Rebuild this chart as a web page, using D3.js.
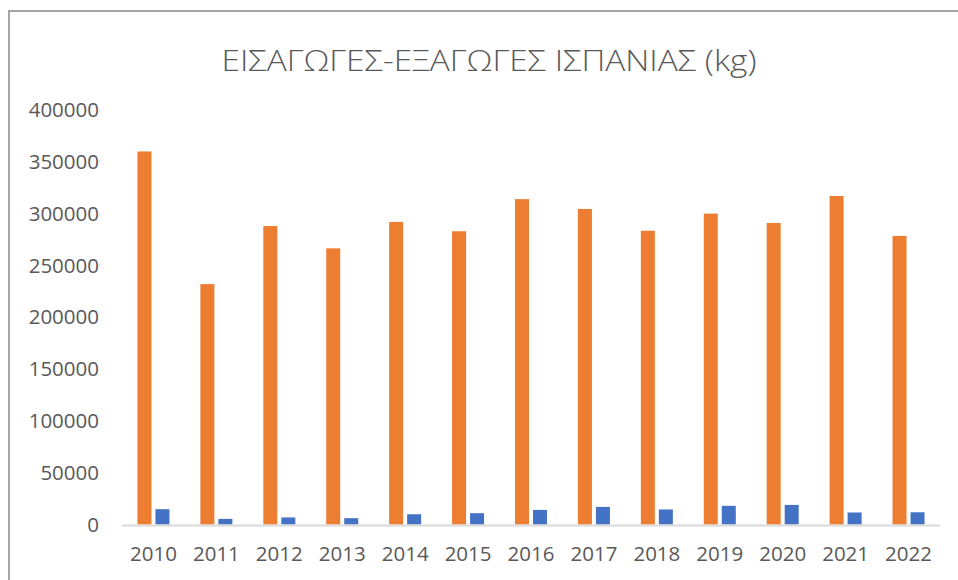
<!DOCTYPE html>
<html lang="el">
<head>
    <meta charset="UTF-8">
    <title>ΕΙΣΑΓΩΓΕΣ-ΕΞΑΓΩΓΕΣ ΙΣΠΑΝΙΑΣ</title>
    <script src="https://d3js.org/d3.v7.min.js"></script>
    <style>
        body { margin: 0; background: #fff; }
        text { font-family: "Open Sans", sans-serif; fill: #595959; }
    </style>
</head>
<body>
<div id="chart"></div>
<script>
// data
var years = ["2010", "2011", "2012", "2013", "2014", "2015", "2016",
             "2017", "2018", "2019", "2020", "2021", "2022"];
var imports = [360000, 232000, 288000, 266500, 292000, 283000, 314000,
               304500, 283500, 300000, 291000, 317000, 278500];
var exports = [14800, 5400, 6800, 6100, 9900, 10900, 14100,
               17000, 14500, 18000, 18900, 11600, 11800];
var yTicks = [0, 50000, 100000, 150000, 200000, 250000, 300000, 350000, 400000];
var seriesNames = ["Εισαγωγές", "Εξαγωγές"];
var colors = ["#ED7D31", "#4472C4"];

var width = 958, height = 580;
var margin = { top: 110, right: 18, bottom: 55, left: 122 };

var svg = d3.select("#chart").append("svg")
    .attr("width", width)
    .attr("height", height);

// chart frame
svg.append("rect")
    .attr("x", 9).attr("y", 11)
    .attr("width", width + 20).attr("height", height + 20)
    .attr("fill", "none")
    .attr("stroke", "#a6a6a6")
    .attr("stroke-width", 2);

svg.append("text")
    .attr("x", 489)
    .attr("y", 71)
    .attr("text-anchor", "middle")
    .attr("textLength", 535)
    .attr("lengthAdjust", "spacingAndGlyphs")
    .style("font-size", "30px")
    .style("font-weight", 300)
    .text("ΕΙΣΑΓΩΓΕΣ-ΕΞΑΓΩΓΕΣ ΙΣΠΑΝΙΑΣ (kg)");

var x0 = d3.scaleBand()
    .domain(years)
    .range([margin.left, width - margin.right]);

var groupW = 32;
var x1 = d3.scaleBand()
    .domain(seriesNames)
    .range([0, groupW])
    .paddingInner(0.222);

var y = d3.scaleLinear()
    .domain([0, 400000])
    .range([524.5, 110]);

// y labels
var yAxis = svg.append("g")
    .attr("transform", "translate(99,0)")
    .call(d3.axisLeft(y).tickValues(yTicks).tickSize(0).tickPadding(0).tickFormat(d3.format("d")));
yAxis.select(".domain").remove();
yAxis.selectAll("text").style("font-size", "20.5px").attr("fill", "#595959");

var table = years.map(function(yr, i) {
    return { year: yr, values: [imports[i], exports[i]] };
});

var groups = svg.selectAll(".grp")
    .data(table)
    .enter().append("g")
    .attr("class", "grp")
    .attr("transform", function(d) {
        return "translate(" + (x0(d.year) + (x0.bandwidth() - groupW) / 2) + ",0)";
    });

groups.selectAll("rect")
    .data(function(d) { return d.values.map(function(v, j) { return { s: seriesNames[j], v: v, j: j }; }); })
    .enter().append("rect")
    .attr("x", function(d) { return x1(d.s); })
    .attr("y", function(d) { return y(d.v); })
    .attr("width", x1.bandwidth())
    .attr("height", function(d) { return y(0) - y(d.v); })
    .attr("fill", function(d) { return colors[d.j]; });

// baseline
svg.append("line")
    .attr("x1", margin.left).attr("x2", width - margin.right)
    .attr("y1", y(0) + 1).attr("y2", y(0) + 1)
    .attr("stroke", "#d9d9d9")
    .attr("stroke-width", 2);

// x labels
var xAxis = svg.append("g")
    .attr("transform", "translate(0," + (y(0) + 12) + ")")
    .call(d3.axisBottom(x0).tickSize(0).tickPadding(10));
xAxis.select(".domain").remove();
xAxis.selectAll("text").style("font-size", "20.5px").attr("fill", "#595959");
</script>
</body>
</html>
